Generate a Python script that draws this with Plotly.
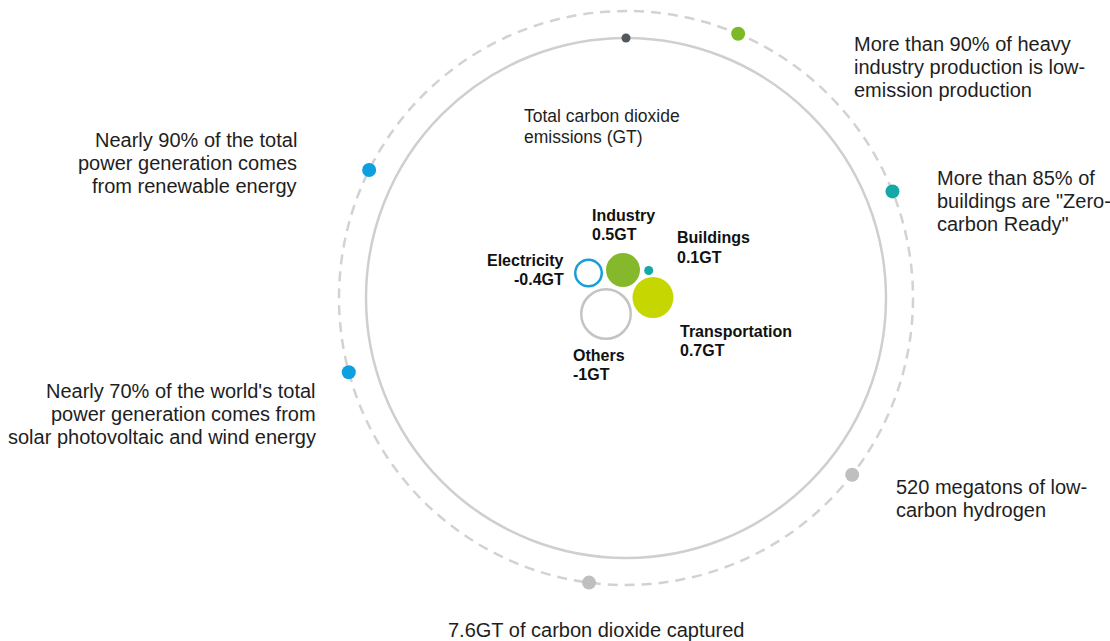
import math
import plotly.graph_objects as go

W, H = 1110, 641

# ---------------- data ----------------
sectors = ["Electricity", "Industry", "Buildings", "Transportation", "Others"]
emissions_gt = [-0.4, 0.5, 0.1, 0.7, -1.0]
value_labels = ["-0.4GT", "0.5GT", "0.1GT", "0.7GT", "-1GT"]

milestones = [
    "More than 90% of heavy<br>industry production is low-<br>emission production",
    'More than 85% of<br>buildings are "Zero-<br>carbon Ready"',
    "520 megatons of low-<br>carbon hydrogen",
    "7.6GT of carbon dioxide captured",
    "Nearly 70% of the world's total<br>power generation comes from<br>solar photovoltaic and wind energy",
    "Nearly 90% of the total<br>power generation comes<br>from renewable energy",
]
center_title = "Total carbon dioxide<br>emissions (GT)"

# ---------------- layout / style ----------------
FONT = "Liberation Sans, Arial, sans-serif"
TXT = "#1e1e1e"
CX, CY = 626, 298
R_IN, R_OUT = 260, 287

# ring milestones: angle (deg clockwise from top), dot colour, label anchor
ms_angle = [23.0, 68.2, 128.0, 187.4, 255.0, 296.5]
ms_color = ["#7cb927", "#14a9a8", "#bfbfbf", "#bfbfbf", "#0e9fe0", "#0e9fe0"]
ms_label_x = [853, 936, 895, 595.5, 317, 298]
ms_label_base = [50.7, 185.0, 494.0, 637.0, 397.7, 146.7]
ms_label_anchor = ["left", "left", "left", "center", "right", "right"]

# sector bubbles
b_cx = [588.5, 623, 648.7, 653, 606]
b_cy = [273, 270, 270.5, 297.5, 314]
b_size = [26.5, 34, 9, 41, 49.5]
b_fill = ["rgba(0,0,0,0)", "#86b82b", "#14a9a8", "#c6d600", "rgba(0,0,0,0)"]
b_line = ["#1a9ddb", "#86b82b", "#14a9a8", "#c6d600", "#c4c4c4"]
b_lw = [2.5, 0, 0, 0, 2.5]
b_label_x = [564.5, 590.5, 676, 679, 571.5]
b_label_base = [266.0, 220.7, 243.5, 336.7, 360.7]
b_label_anchor = ["right", "left", "left", "left", "left"]

fig = go.Figure()

# rings
fig.add_shape(type="circle", xref="x", yref="y", layer="below",
              x0=CX - R_IN, x1=CX + R_IN, y0=CY - R_IN, y1=CY + R_IN,
              line=dict(color="#cfcfcf", width=2.5))
fig.add_shape(type="circle", xref="x", yref="y", layer="below",
              x0=CX - R_OUT, x1=CX + R_OUT, y0=CY - R_OUT, y1=CY + R_OUT,
              line=dict(color="#d2d2d2", width=2.5, dash="10px,7px"))

# top marker on the inner ring
fig.add_trace(go.Scatter(x=[CX], y=[CY - R_IN], mode="markers",
                         marker=dict(size=9, color="#53575e", opacity=1),
                         hoverinfo="skip", showlegend=False))

# milestone dots
mx = [CX + R_OUT * math.sin(math.radians(a)) for a in ms_angle]
my = [CY - R_OUT * math.cos(math.radians(a)) for a in ms_angle]
fig.add_trace(go.Scatter(x=mx, y=my, mode="markers",
                         marker=dict(size=14, color=ms_color, opacity=1),
                         text=milestones, hoverinfo="text", showlegend=False))

# sector bubbles
fig.add_trace(go.Scatter(
    x=b_cx, y=b_cy, mode="markers",
    marker=dict(size=b_size, color=b_fill, opacity=1,
                line=dict(color=b_line, width=b_lw)),
    customdata=emissions_gt, text=sectors,
    hovertemplate="%{text}: %{customdata} GT<extra></extra>", showlegend=False))


def add_text(text, x, base, spacing, size, anchor, bold=False, color=TXT):
    for i, line in enumerate(text.split("<br>")):
        y = base + i * spacing - 0.35 * size
        fig.add_annotation(x=x, y=y, xref="x", yref="y",
                           text=f"<b>{line}</b>" if bold else line,
                           xanchor=anchor, yanchor="middle", showarrow=False,
                           borderpad=0, align=anchor,
                           font=dict(family=FONT, size=size, color=color))


for t, x, b, a in zip(milestones, ms_label_x, ms_label_base, ms_label_anchor):
    add_text(t, x, b, 23, 20, a)

add_text(center_title, 523, 121.7, 21.3, 17.5, "left")

for s, v, x, b, a in zip(sectors, value_labels, b_label_x, b_label_base, b_label_anchor):
    add_text(f"{s}<br>{v}", x, b, 19.5, 16, a, bold=True, color="#111111")

fig.update_layout(
    width=W, height=H,
    margin=dict(l=0, r=0, t=0, b=0),
    paper_bgcolor="white", plot_bgcolor="white",
    xaxis=dict(range=[0, W], visible=False, fixedrange=True),
    yaxis=dict(range=[H, 0], visible=False, fixedrange=True),
    showlegend=False,
)

fig.write_html("out.html", config={"displayModeBar": False})
